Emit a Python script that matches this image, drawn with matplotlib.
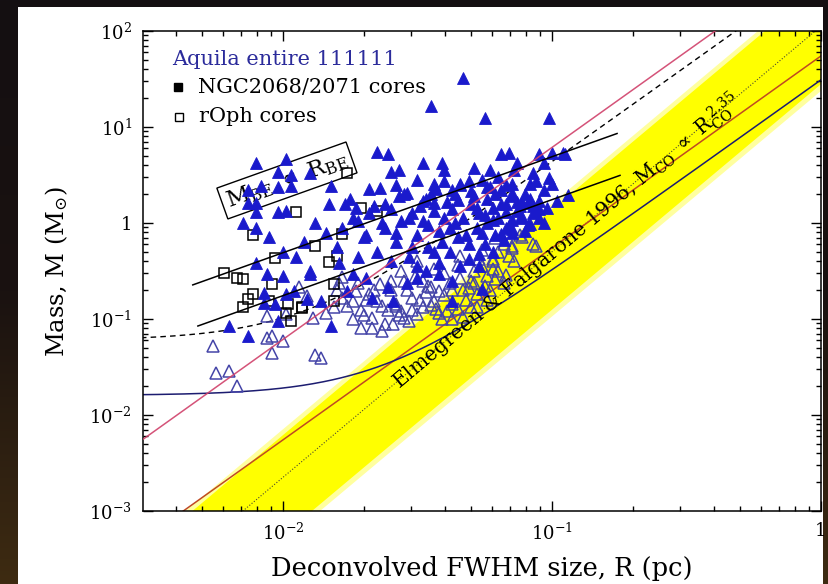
import numpy as np
import matplotlib
matplotlib.use('Agg')
import matplotlib.pyplot as plt
from matplotlib.patches import Rectangle
from matplotlib.colors import LinearSegmentedColormap

plt.rcParams['font.family'] = 'DejaVu Serif'
plt.rcParams['mathtext.fontset'] = 'dejavuserif'

# Aquila cores, log10 R (pc) / log10 M (Msun)
# bound (filled triangles)
bound_logR = [-1.33, -1.45, -1.25, -1.01,
              -2.10, -1.99, -2.02, -1.97, -1.90, -2.13, -2.08, -2.02, -1.97, -2.10, -2.13, -2.10,
              -2.02, -1.99, -1.82, -1.83, -1.77, -1.73, -1.65, -1.61, -1.64, -1.60, -1.57, -1.54,
              -1.48, -1.41, -1.44, -1.40, -1.48, -1.44, -1.37, -1.34, -1.31, -1.29,
              -1.19, -1.16, -1.05, -1.00, -0.96, -0.95, -1.13, -1.03, -1.07, -1.06, -1.01, -1.00,
              -1.08, -1.15, -0.94, -0.98, -1.05, -1.09, -1.15, -1.19, -1.24, -1.12, -1.07, -1.02,
              -1.22, -1.17, -1.22, -1.15, -1.11, -1.08, -1.15, -1.19,
              -2.10, -2.06, -2.00, -1.90, -1.99, -2.07, -2.07, -2.03, -1.96, -1.91, -1.86, -1.82,
              -2.02, -2.13, -2.20, -1.79, -1.74, -1.69, -1.67, -1.59, -1.76, -1.61, -1.54, -1.50,
              -1.47, -1.42, -1.37, -1.37, -1.26,
              -1.78, -1.74, -1.70, -1.68, -1.65, -1.62, -1.60, -1.58, -1.56, -1.53, -1.52, -1.50,
              -1.48, -1.46, -1.44, -1.42, -1.40, -1.38, -1.37, -1.35, -1.33, -1.31, -1.30, -1.28,
              -1.27, -1.25, -1.24, -1.22, -1.20, -1.27, -1.34, -1.42, -1.50, -1.60, -1.72, -1.80,
              -1.84, -1.88, -1.92, -1.95, -1.90, -2.00, -2.05, -2.10, -2.15, -1.75, -1.68, -1.58,
              -1.50, -1.45, -1.40, -1.36, -1.30, -1.26, -1.23, -1.20, -1.17, -1.14, -1.10, -1.12,
              -1.15, -1.17, -1.05, -1.03, -1.08,
              -1.62, -1.58, -1.55, -1.52, -1.49, -1.46, -1.43, -1.41, -1.39, -1.36, -1.34, -1.32,
              -1.29, -1.27, -1.25, -1.23, -1.21, -1.19, -1.17, -1.15, -1.13, -1.11, -1.09, -1.07,
              -1.05, -1.03, -1.31, -1.28, -1.26, -1.24, -1.21, -1.18, -1.16, -1.13, -1.10, -1.38,
              -1.35, -1.44, -1.47, -1.53, -1.57, -1.63, -1.66, -1.69, -1.72]
bound_logM = [1.51, 1.22, 1.09, 1.09,
              0.62, 0.67, 0.53, 0.50, 0.52, 0.34, 0.39, 0.37, 0.39, 0.21, 0.21, 0.11,
              0.11, 0.13, 0.39, 0.20, 0.20, 0.16, 0.74, 0.72, 0.36, 0.53, 0.55, 0.31,
              0.63, 0.62, 0.41, 0.44, 0.23, 0.21, 0.34, 0.41, 0.44, 0.57,
              0.72, 0.73, 0.72, 0.73, 0.73, 0.72, 0.62, 0.62, 0.52, 0.44, 0.47, 0.41,
              0.41, 0.41, 0.29, 0.23, 0.23, 0.21, 0.31, 0.34, 0.37, 0.18, 0.18, 0.16,
              0.16, 0.11, 0.03, 0.03, 0.06, -0.01, -0.06, -0.11,
              -0.42, -0.53, -0.55, -0.53, -0.74, -0.73, -0.83, -0.84, -0.71, -0.79, -0.81, -1.07,
              -1.02, -1.18, -1.07, -0.42, -0.53, -0.57, -0.78, -0.81, -0.71, -0.67, -0.63, -0.57,
              -0.50, -0.53, -0.60, -0.81, -0.69,
              -0.05, 0.05, -0.15, 0.10, -0.30, -0.05, 0.15, -0.20, 0.02, -0.35, 0.10, -0.12,
              0.02, -0.25, 0.12, -0.08, 0.05, -0.30, 0.15, -0.15, 0.05, -0.38, 0.20, -0.05,
              0.10, -0.22, 0.25, -0.30, 0.05, -0.45, -0.45, -0.42, -0.45, -0.40, -0.35, -0.25,
              -0.10, 0.00, -0.20, -0.35, -0.50, -0.30, -0.15, -0.05, 0.00, 0.25, 0.35, 0.40,
              0.45, 0.30, 0.55, 0.30, 0.33, 0.45, 0.55, 0.48, 0.40, 0.55, 0.30, 0.05,
              -0.10, 0.20, 0.05, 0.34, 0.25,
              0.20, -0.10, 0.30, -0.25, 0.18, -0.02, 0.35, -0.20, 0.22, 0.00, 0.40, -0.12,
              0.28, -0.32, 0.08, 0.38, -0.12, 0.20, -0.05, 0.28, 0.12, 0.22, -0.02, 0.10,
              0.15, 0.00, -0.22, 0.16, -0.10, 0.00, 0.30, -0.18, -0.02, 0.22, -0.08, -0.05,
              0.24, -0.30, 0.25, 0.05, 0.28, 0.00, 0.18, -0.12, 0.02]

# unbound (open triangles)
unbound_logR = [-2.26, -2.25, -2.20, -2.17, -2.06, -2.04, -2.00, -2.04, -1.88, -1.86, -2.06, -1.99,
                -1.89, -1.91, -1.94, -1.79, -1.74, -1.71, -1.67, -1.71, -1.67, -1.63, -1.59, -1.55,
                -1.52, -1.48, -1.44, -1.42, -1.38, -1.34, -1.29, -1.45, -1.52, -1.58, -1.61, -1.65,
                -1.68, -1.73, -1.78, -1.81, -1.84, -1.37,
                -1.11, -1.06, -1.15, -1.18, -1.22, -1.12, -1.07, -1.21, -1.15, -1.22, -1.42, -1.37,
                -1.26, -1.24, -1.20, -1.18, -1.30, -1.28, -1.33, -1.24, -1.30, -1.35, -1.40, -1.47,
                -1.50, -1.56, -1.60, -1.55, -1.45,
                -1.80, -1.76, -1.72, -1.70, -1.66, -1.63, -1.60, -1.57, -1.54, -1.51, -1.49, -1.46,
                -1.43, -1.40, -1.37, -1.35, -1.32, -1.29, -1.27, -1.25, -1.22, -1.20, -1.17, -1.14,
                -1.78, -1.74, -1.69, -1.64, -1.58, -1.53, -1.48, -1.44, -1.39, -1.34, -1.31, -1.26,
                -1.21, -1.16, -1.62, -1.56, -1.50, -1.41, -1.33, -1.28, -1.23]
unbound_logM = [-1.28, -1.56, -1.54, -1.70, -1.20, -1.18, -1.23, -1.35, -1.38, -1.41, -0.97, -0.95,
                -0.99, -0.76, -0.67, -0.63, -0.81, -0.91, -0.99, -1.09, -1.09, -1.12, -1.05, -0.99,
                -0.91, -0.88, -0.81, -0.71, -0.63, -0.57, -0.50, -0.67, -0.78, -0.84, -0.91, -0.81,
                -0.74, -0.71, -0.78, -0.88, -0.94, -1.00,
                -0.15, -0.24, -0.26, -0.22, -0.37, -0.13, -0.22, -0.16, -0.24, -0.40, -0.94, -0.84,
                -0.45, -0.55, -0.50, -0.62, -0.60, -0.74, -0.70, -0.80, -0.88, -0.90, -0.75, -0.72,
                -0.95, -0.92, -0.70, -0.60, -0.85,
                -0.70, -0.86, -0.62, -0.96, -0.70, -0.86, -0.60, -0.96, -0.70, -0.56, -0.80, -0.66,
                -0.90, -0.52, -0.70, -0.44, -0.80, -0.62, -0.38, -0.66, -0.48, -0.30, -0.54, -0.40,
                -0.56, -1.00, -0.80, -0.64, -0.86, -1.02, -0.60, -0.48, -0.92, -0.34, -0.68, -0.28,
                -0.58, -0.34, -1.05, -0.50, -0.40, -1.00, -0.98, -0.88, -0.70]

# rho Oph cores (open squares)
oph_logR = [-2.22, -2.17, -2.15, -2.11, -2.13, -2.15, -2.05, -1.98, -1.93, -1.93, -1.97, -1.99,
            -2.03, -1.83, -1.80, -1.81, -1.76, -1.95, -1.71, -1.65, -2.11, -1.88, -1.78, -1.81,
            -2.04]
oph_logM = [-0.52, -0.57, -0.58, -0.74, -0.79, -0.88, -0.81, -0.84, -0.87, -0.89, -1.02, -0.94,
            -0.36, -0.41, -0.34, -0.81, 0.52, 0.11, 0.16, 0.12, -0.13, -0.24, -0.11, -0.64,
            -0.64]

# power-law relations: M = k R^p
EF_SLOPE = 2.35
EF_LOW, EF_MID, EF_HIGH = 10**1.446, 10**2.05, 10**2.49
RED_SLOPE = 2.0
RED_UPPER, RED_LOWER = 612.0, 55.0
BE_WARM_K, BE_COLD_K = 49.0, 17.5          # M_BE = k R
BE_WARM_R = (10**-2.335, 10**-0.758)
BE_COLD_R = (10**-2.316, 10**-0.747)
THERMAL_FLOOR, THERMAL_K = 0.016, 31.0     # M = M0 + k R^2
DASH_FLOOR, DASH_K = 0.06, 430.0

fig = plt.figure(figsize=(8.29, 5.84), dpi=100)

# dark backdrop with a white panel
bg = fig.add_axes([0, 0, 1, 1], zorder=-10)
bg.axis('off')
grad = np.linspace(0, 1, 256).reshape(-1, 1)
cmap_bg = LinearSegmentedColormap.from_list('bg', ['#3e2b12', '#1a1210', '#140f12'])
bg.imshow(grad, aspect='auto', cmap=cmap_bg, extent=[0, 1, 0, 1], origin='lower')
bg.add_patch(Rectangle((18 / 829, 0), (823 - 18) / 829, (584 - 7) / 584,
                       facecolor='white', edgecolor='none', transform=bg.transAxes))

ax = fig.add_axes([143 / 829, 73 / 584, 678 / 829, 480 / 584])
ax.set_xscale('log')
ax.set_yscale('log')
xmin, xmax = 10**-2.52, 1.0
ax.set_xlim(xmin, xmax)
ax.set_ylim(1e-3, 1e2)
ax.patch.set_alpha(0)

R = np.logspace(-2.6, 0.05, 400)

# Elmegreen & Falgarone band
ax.fill_between(R, EF_LOW * R**EF_SLOPE * 0.85, EF_HIGH * R**EF_SLOPE * 1.15,
                color='#ffff40', alpha=0.5, lw=0, zorder=1)
ax.fill_between(R, EF_LOW * R**EF_SLOPE, EF_HIGH * R**EF_SLOPE,
                color='#ffff00', lw=0, zorder=1)
ax.plot(R, EF_MID * R**EF_SLOPE, ls=':', color='#4a4a30', lw=0.8, zorder=2)

ax.plot(R, RED_LOWER * R**RED_SLOPE, color='#bf4a22', lw=1.1, zorder=2)
ax.plot(R, THERMAL_FLOOR + THERMAL_K * R**2, color='#1c1c70', lw=1.1, zorder=2)

# cores
ax.plot(10**np.array(unbound_logR), 10**np.array(unbound_logM), ls='none', marker='^', ms=8,
        mfc='none', mec='#4545a8', mew=1.1, zorder=3)
ax.plot(10**np.array(oph_logR), 10**np.array(oph_logM), ls='none', marker='s', ms=6.5,
        mfc='none', mec='black', mew=1.1, zorder=4)
ax.plot(10**np.array(bound_logR), 10**np.array(bound_logM), ls='none', marker='^', ms=8,
        mfc='#1a1acc', mec='#1a1acc', mew=0.6, zorder=5)

# relations drawn over the cores
ax.plot(R, RED_UPPER * R**RED_SLOPE, color='#d0406a', lw=1.1, alpha=0.9, zorder=6)
ax.plot(R, DASH_FLOOR + DASH_K * R**2, color='black', lw=1.0, ls=(0, (4, 3)), zorder=2)
for k, (r0, r1) in [(BE_WARM_K, BE_WARM_R), (BE_COLD_K, BE_COLD_R)]:
    rr = np.array([r0, r1])
    ax.plot(rr, k * rr, color='black', lw=1.1, zorder=6)

# axes styling
ax.tick_params(which='both', direction='in', top=True, right=True, width=1.0, colors='black',
               labelsize=13, pad=8)
ax.tick_params(which='major', length=7)
ax.tick_params(which='minor', length=3.5)
for s in ax.spines.values():
    s.set_linewidth(1.1)
ax.set_yticks([1e-3, 1e-2, 1e-1, 1, 10, 100])
ax.set_yticklabels([r'$10^{-3}$', r'$10^{-2}$', r'$10^{-1}$', '1', r'$10^{1}$', r'$10^{2}$'])
ax.set_xticks([1e-2, 1e-1, 1])
ax.set_xticklabels([r'$10^{-2}$', r'$10^{-1}$', '1'])
ax.set_xlim(xmin, xmax)

ax.set_ylabel(r'Mass, M (M$_{\odot}$)', fontsize=17.5, labelpad=14)
ax.set_xlabel('Deconvolved FWHM size, R (pc)', fontsize=18.5, labelpad=9)

def slope_angle(p, r0, r1):
    a = ax.transData.transform((r0, r0**p))
    b = ax.transData.transform((r1, r1**p))
    return np.degrees(np.arctan2(b[1] - a[1], b[0] - a[0]))

# labels along the relations
ax.text(10**-1.985, 10**0.443, r'M$_{\rm BE}$ $\propto$ R$_{\rm BE}$', fontsize=16.5,
        rotation=slope_angle(1.0, 0.01, 0.1), rotation_mode='anchor', ha='center', va='center',
        bbox=dict(boxstyle='square,pad=0.2', fc='none', ec='black', lw=1.0), zorder=4)
ax.text(10**-0.944, 10**-0.19,
        r'Elmegreen & Falgarone 1996, M$_{\rm CO}$ $\propto$ R$_{\rm CO}^{\ 2.35}$',
        fontsize=14.5, rotation=slope_angle(EF_SLOPE, 0.01, 0.1), rotation_mode='anchor',
        ha='center', va='center', zorder=6)

# legend written as text
ax.text(0.043, 0.94, 'Aquila entire 111111', transform=ax.transAxes, fontsize=15,
        color='#2b2b9b', va='center')
ax.plot([0.052], [0.883], transform=ax.transAxes, marker='s', ms=6, color='black', ls='none')
ax.text(0.081, 0.883, 'NGC2068/2071 cores', transform=ax.transAxes, fontsize=15, va='center')
ax.plot([0.053], [0.821], transform=ax.transAxes, marker='s', ms=6, mfc='none', mec='black',
        ls='none')
ax.text(0.082, 0.821, 'rOph cores', transform=ax.transAxes, fontsize=15, va='center')

fig.savefig('out.png', dpi=100)
